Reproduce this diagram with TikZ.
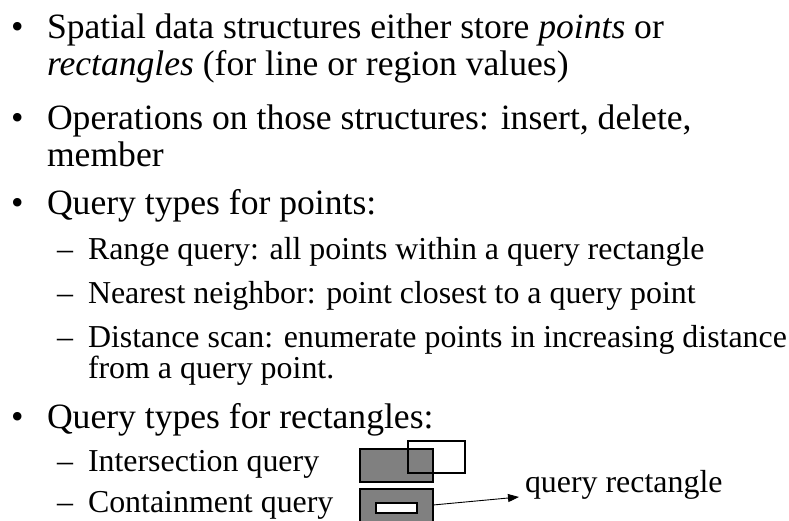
\documentclass[tikz,border=0pt]{standalone}
\usepackage{fontspec}
\setmainfont{Liberation Serif}
\usetikzlibrary{arrows.meta,calc}
\tikzset{
  txt/.style={anchor=base west,inner sep=0pt,outer sep=0pt},
  mainline/.style={txt,font=\fontsize{35.6}{36}\selectfont},
  subline/.style={txt,font=\fontsize{31.9}{32}\selectfont},
  grayrect/.style={fill=black!50,draw=black,line width=1.4pt},
  openrect/.style={draw=black,line width=1.2pt},
  whiterect/.style={fill=white,draw=black,line width=1.2pt},
  pointer/.style={draw=black,line width=0.9pt,-{Triangle[length=11pt,width=8pt]}}
}
\begin{document}
\begin{tikzpicture}[x=1pt,y=-1pt]
\useasboundingbox (0,0) rectangle (789,521);
% bullets
\node[mainline] (b1) at (11,39) {•};
\node[mainline] (b2) at (11,130) {•};
\node[mainline] (b3) at (11,215) {•};
\node[mainline] (b4) at (11,428) {•};
% main lines
\node[mainline] (t1) at (47,39) {Spatial data structures either store \textit{points} or};
\node[mainline] (t1b) at (47,76) {\textit{rectangles} (for line or region values)};
\node[mainline] (t2) at (47,130) {Operations on those structures: insert, delete,};
\node[mainline] (t2b) at (47,167) {member};
\node[mainline] (t3) at (47,215) {Query types for points:};
\node[mainline] (t4) at (47,428) {Query types for rectangles:};
% dashes
\node[subline] (d1) at (57,259) {–};
\node[subline] (d2) at (57,303) {–};
\node[subline] (d3) at (57,347) {–};
\node[subline] (d4) at (57,471) {–};
\node[subline] (d5) at (57,512) {–};
% sub lines
\node[subline] (s1) at (88,259) {Range query: all points within a query rectangle};
\node[subline] (s2) at (88,303) {Nearest neighbor: point closest to a query point};
\node[subline] (s3) at (88,347) {Distance scan: enumerate points in increasing distance};
\node[subline] (s3b) at (88,378) {from a query point.};
\node[subline] (s4) at (88,471) {Intersection query};
\node[subline] (s5) at (88,512) {Containment query};
% intersection figure
\draw[grayrect] (360,449) rectangle (433,482);
\draw[openrect] (408,441) rectangle (465,473);
% containment figure
\fill[black!50] (360,489) rectangle (433,521);
\draw[black,line width=1.4pt] (360,522) -- (360,489) -- (433,489) -- (433,522);
\draw[whiterect] (376,503) rectangle (417,513);
% label and arrow
\node[subline] (ql) at (525,492) {query rectangle};
\coordinate (as) at (433,505);
\draw[pointer] (as) -- ($(ql.base west)+(-6,5)$);
\end{tikzpicture}
\end{document}
